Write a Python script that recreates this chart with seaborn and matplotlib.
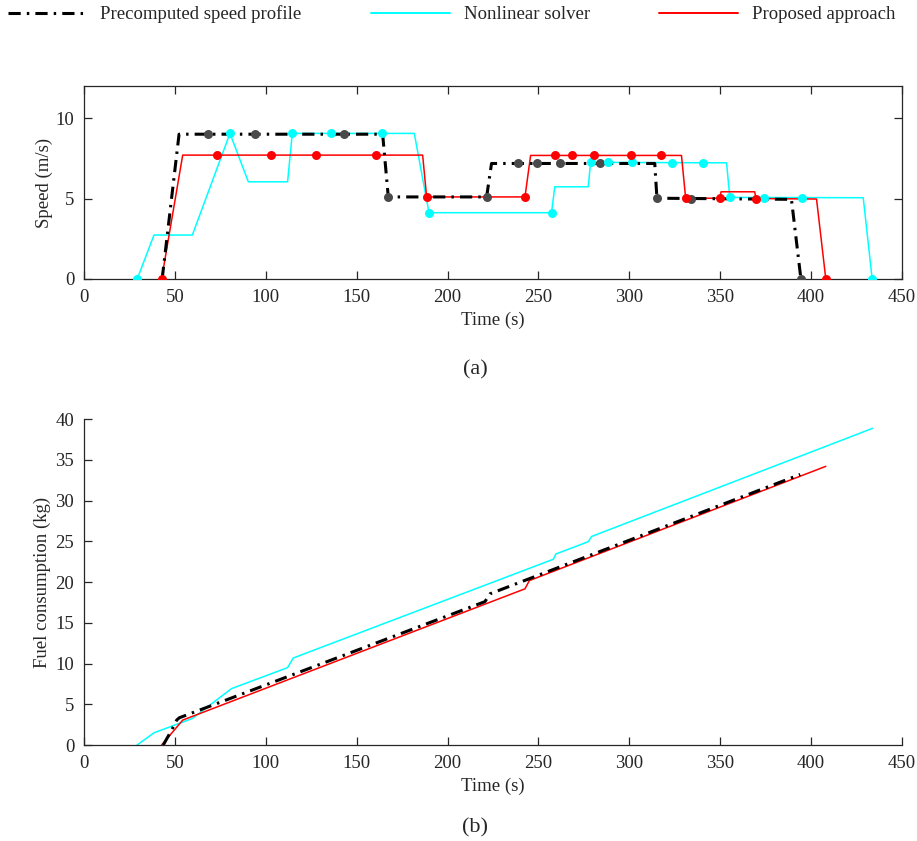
import matplotlib
matplotlib.use("Agg")
import matplotlib.pyplot as plt
import seaborn as sns
from matplotlib.lines import Line2D

# ── speed profiles (top panel) ──
pre_t = [43.0, 52.3, 164.3, 167.4, 221.5, 224.2, 314.0, 315.2, 389.2, 394.4]
pre_v = [0.0, 9.0, 9.0, 5.1, 5.1, 7.18, 7.18, 5.02, 4.95, 0.0]
pre_mk_t = [68.4, 94.0, 143.2, 167.4, 221.5, 239.0, 249.0, 261.8, 283.8, 315.2, 334.2, 394.4]
pre_mk_v = [9.0, 9.0, 9.0, 5.1, 5.1, 7.18, 7.18, 7.18, 7.18, 5.02, 5.0, 0.0]

nl_t = [29.3, 38.5, 59.6, 80.3, 90.4, 112.0, 114.6, 181.7, 189.8, 257.2, 259.0,
        277.4, 278.7, 353.5, 355.3, 428.7, 433.6]
nl_v = [0.0, 2.73, 2.73, 9.05, 6.04, 6.04, 9.05, 9.05, 4.12, 4.12, 5.73,
        5.73, 7.25, 7.22, 5.07, 5.05, 0.0]
nl_mk_t = [29.3, 80.3, 114.6, 135.7, 163.7, 189.8, 257.2, 278.7, 288.4, 301.6,
           323.4, 340.7, 355.3, 374.0, 395.1, 433.6]
nl_mk_v = [0.0, 9.05, 9.05, 9.05, 9.05, 4.12, 4.12, 7.25, 7.25, 7.25,
           7.24, 7.23, 5.07, 5.06, 5.05, 0.0]

pa_t = [42.7, 54.3, 186.3, 188.5, 242.6, 245.7, 328.7, 331.0, 349.8, 350.5,
        369.0, 369.6, 403.0, 408.1]
pa_v = [0.0, 7.7, 7.7, 5.1, 5.1, 7.68, 7.68, 5.02, 5.02, 5.42,
        5.42, 5.0, 4.97, 0.0]
pa_mk_t = [42.7, 73.0, 102.9, 127.6, 160.6, 188.5, 242.6, 259.0, 268.2, 280.7,
           301.2, 317.6, 331.0, 349.8, 369.6, 408.1]
pa_mk_v = [0.0, 7.7, 7.7, 7.7, 7.7, 5.1, 5.1, 7.68, 7.68, 7.68,
           7.68, 7.68, 5.02, 5.02, 5.0, 0.0]

# ── fuel consumption (bottom panel) ──
pre_fuel_t = [43.6, 48.2, 51.0, 52.4, 220.6, 223.3, 394.0]
pre_fuel = [0.0, 1.83, 3.06, 3.34, 17.6, 18.55, 33.2]
nl_fuel_t = [29.2, 38.5, 59.6, 81.2, 112.0, 115.1, 258.2, 259.6, 277.4, 279.3, 433.8]
nl_fuel = [0.0, 1.5, 3.26, 6.93, 9.5, 10.68, 22.8, 23.45, 24.95, 25.6, 38.86]
pa_fuel_t = [42.7, 54.3, 242.6, 245.0, 408.1]
pa_fuel = [0.0, 3.06, 19.17, 20.18, 34.2]

labels = ["Precomputed speed profile", "Nonlinear solver", "Proposed approach"]
x_ticks = list(range(0, 451, 50))

BLACK, CYAN, RED, GREY = "#000000", "#00ffff", "#ff0000", "#4a4a4a"
DASHDOT = (0, (4, 2, 0.8, 2))
INK = "#262626"

sns.set_theme(style="ticks")
plt.rcParams["font.family"] = ["Liberation Serif", "DejaVu Serif"]
plt.rcParams.update({
    "font.size": 13.5,
    "axes.edgecolor": INK,
    "axes.labelcolor": INK,
    "xtick.color": INK,
    "ytick.color": INK,
    "axes.linewidth": 0.9,
    "xtick.direction": "in",
    "ytick.direction": "in",
    "xtick.major.size": 6,
    "ytick.major.size": 6,
    "xtick.major.width": 0.9,
    "ytick.major.width": 0.9,
})

fig = plt.figure(figsize=(9.17, 8.41), dpi=100)
ax1 = fig.add_axes([0.0916, 0.6683, 0.892, 0.2295])
ax2 = fig.add_axes([0.0916, 0.1141, 0.892, 0.3876])

# top panel
sns.lineplot(x=nl_t, y=nl_v, ax=ax1, color=CYAN, lw=1.1, sort=False, estimator=None)
sns.lineplot(x=pa_t, y=pa_v, ax=ax1, color=RED, lw=1.1, sort=False, estimator=None)
sns.lineplot(x=pre_t, y=pre_v, ax=ax1, color=BLACK, lw=2.2, linestyle=DASHDOT,
             sort=False, estimator=None)
sns.scatterplot(x=pre_mk_t, y=pre_mk_v, ax=ax1, color=GREY, s=42, linewidth=0, zorder=4)
sns.scatterplot(x=nl_mk_t, y=nl_mk_v, ax=ax1, color=CYAN, s=42, linewidth=0, zorder=4)
sns.scatterplot(x=pa_mk_t, y=pa_mk_v, ax=ax1, color=RED, s=42, linewidth=0, zorder=5)

ax1.set_xlim(0, 450)
ax1.set_ylim(0, 12)
ax1.set_xticks(x_ticks)
ax1.set_yticks([0, 5, 10])
ax1.tick_params(top=True, right=True, labelsize=13.5, pad=7)
ax1.set_xlabel("Time (s)", fontsize=13.5, labelpad=4)
ax1.set_ylabel("Speed (m/s)", fontsize=13.5, labelpad=2)

# bottom panel
sns.lineplot(x=nl_fuel_t, y=nl_fuel, ax=ax2, color=CYAN, lw=1.1, sort=False, estimator=None)
sns.lineplot(x=pa_fuel_t, y=pa_fuel, ax=ax2, color=RED, lw=1.1, sort=False, estimator=None)
sns.lineplot(x=pre_fuel_t, y=pre_fuel, ax=ax2, color=BLACK, lw=2.2, linestyle=DASHDOT,
             sort=False, estimator=None)
ax2.set_xlim(0, 450)
ax2.set_ylim(0, 40)
ax2.set_xticks(x_ticks)
ax2.set_yticks(list(range(0, 41, 5)))
ax2.tick_params(labelsize=13.5, pad=7)
ax2.set_xlabel("Time (s)", fontsize=13.5, labelpad=4)
ax2.set_ylabel("Fuel consumption (kg)", fontsize=13.5, labelpad=3)
sns.despine(ax=ax2)

fig.text(0.518, 0.56, "(a)", ha="center", va="center", fontsize=16, color=INK)
fig.text(0.518, 0.0155, "(b)", ha="center", va="center", fontsize=16, color=INK)

handles = [
    Line2D([], [], color=BLACK, lw=2.2, linestyle=DASHDOT),
    Line2D([], [], color=CYAN, lw=1.4),
    Line2D([], [], color=RED, lw=1.4),
]
fig.legend(handles, labels, loc="center left", bbox_to_anchor=(0.0, 0.983),
           ncol=3, frameon=False, fontsize=13.5, handlelength=4.2,
           handletextpad=0.75, columnspacing=3.7, borderaxespad=0)

fig.savefig("out.png", dpi=100)
